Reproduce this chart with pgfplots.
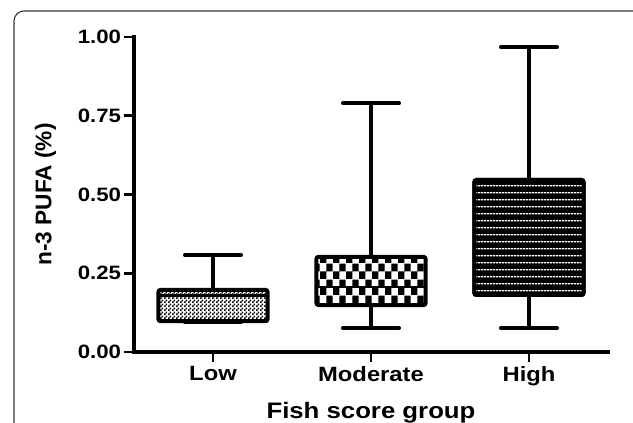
\documentclass[border=0pt]{standalone}
\usepackage{fontspec}
\setmainfont{Liberation Sans}[FakeStretch=1.15]
\newfontfamily\plainsans{Liberation Sans}
\usepackage{pgfplots}
\pgfplotsset{compat=1.18}
\usepgfplotslibrary{statistics}
\usetikzlibrary{patterns}
\pgfdeclarepatternformonly{finecheck}{\pgfpointorigin}{\pgfqpoint{3pt}{3pt}}{\pgfqpoint{3pt}{3pt}}{
  \pgfpathrectangle{\pgfpointorigin}{\pgfqpoint{1.5pt}{1.5pt}}
  \pgfpathrectangle{\pgfqpoint{1.5pt}{1.5pt}}{\pgfqpoint{1.5pt}{1.5pt}}
  \pgfusepath{fill}
}
\pgfdeclarepatternformonly{bigcheck}{\pgfpointorigin}{\pgfqpoint{9.6pt}{12pt}}{\pgfqpoint{9.6pt}{12pt}}{
  \pgfpathrectangle{\pgfpointorigin}{\pgfqpoint{4.8pt}{6pt}}
  \pgfpathrectangle{\pgfqpoint{4.8pt}{6pt}}{\pgfqpoint{4.8pt}{6pt}}
  \pgfusepath{fill}
}
\pgfdeclarepatternformonly{wlines}{\pgfpointorigin}{\pgfqpoint{2pt}{5.4pt}}{\pgfqpoint{2pt}{5.4pt}}{
  \pgfpathrectangle{\pgfqpoint{0pt}{2.2pt}}{\pgfqpoint{2pt}{1pt}}
  \pgfusepath{fill}
}
\begin{document}
\begin{tikzpicture}
\useasboundingbox (0,0) rectangle (474.75pt,317.25pt);
\begin{scope}
\clip (0,0) rectangle (474.75pt,317.25pt);
\draw[black!80, line width=0.8pt, rounded corners=7.5pt] (10.5pt,309pt) rectangle (490pt,-20pt);
\end{scope}
\begin{axis}[
  at={(100.5pt,53.25pt)}, anchor=south west,
  scale only axis, width=355.5pt, height=236.25pt,
  xmin=0.5, xmax=3.5, ymin=0, ymax=1,
  clip=false,
  axis x line*=bottom, axis y line*=left,
  axis line style={line width=3pt, black, line cap=rect},
  tick align=outside,
  major tick length=7.5pt,
  major tick style={line width=2.2pt, black},
  xtick={1,2,3}, xticklabels={Low,Moderate,High},
  ytick={0,0.25,0.5,0.75,1},
  /pgf/number format/assume math mode=true,
  yticklabel style={font=\bfseries\fontsize{14.5}{16}\selectfont, inner xsep=2pt,
    /pgf/number format/fixed, /pgf/number format/fixed zerofill, /pgf/number format/precision=2},
  xticklabel style={font=\bfseries\fontsize{15.5}{17}\selectfont},
  xlabel={Fish score group},
  xlabel style={font=\bfseries\fontsize{16.8}{19}\selectfont, at={(axis description cs:0.5,-0.2127)}, anchor=base},
  ylabel={n-3 PUFA (\%)},
  ylabel style={font=\plainsans\bfseries\fontsize{17}{19}\selectfont, at={(axis description cs:-0.1866,0.5)}, anchor=center, rotate=0},
  boxplot/draw direction=y,
  boxplot/every whisker/.style={line cap=round},
]
\addplot[black, line width=3pt, boxplot prepared={draw direction=y, draw position=1,
  lower whisker=0.095, lower quartile=0.098, median=0.18, upper quartile=0.197, upper whisker=0.308,
  box extend=0.69, whisker extend=0.355,
  every box/.style={pattern=finecheck, rounded corners=1.5pt},
  every median/.style={line width=2.5pt}}] coordinates {};
\addplot[black, line width=3pt, boxplot prepared={draw direction=y, draw position=2,
  lower whisker=0.076, lower quartile=0.149, median=0.206, upper quartile=0.302, upper whisker=0.79,
  box extend=0.69, whisker extend=0.355,
  every box/.style={pattern=bigcheck, rounded corners=1.5pt},
  every median/.style={line width=1.5pt}}] coordinates {};
\addplot[black, line width=3pt, boxplot prepared={draw direction=y, draw position=3,
  lower whisker=0.076, lower quartile=0.181, median=0.295, upper quartile=0.546, upper whisker=0.968,
  box extend=0.69, whisker extend=0.355,
  every box/.style={preaction={fill=black}, pattern=wlines, pattern color=white, rounded corners=1.5pt},
  every median/.style={line width=2.5pt}}] coordinates {};
\end{axis}
\end{tikzpicture}
\end{document}
